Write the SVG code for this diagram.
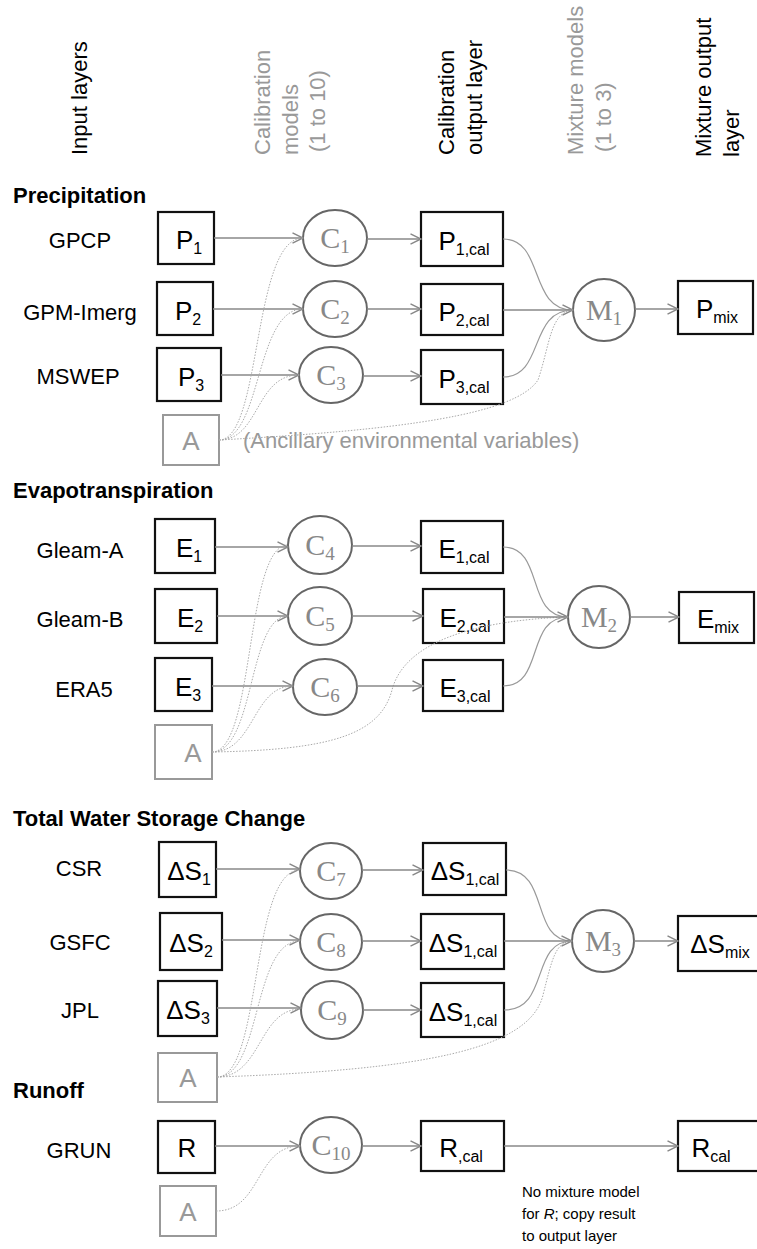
<svg xmlns="http://www.w3.org/2000/svg" width="757" height="1249" viewBox="0 0 757 1249">
<defs>
<marker id="arr" viewBox="0 0 12 12" refX="11.5" refY="6" markerWidth="12" markerHeight="12" orient="auto" markerUnits="userSpaceOnUse">
<path d="M1,0.8 L11.5,6 L1,11.2" fill="none" stroke="#888" stroke-width="1.4"/>
</marker>
<style>
.t{font-family:"Liberation Sans",Arial,sans-serif;fill:#000}
.lbl{font-size:22px;text-anchor:middle}
.hdr{font-size:22px;font-weight:bold}
.col{font-size:22px}
.gr{fill:#999}
.bt{font-size:26px;text-anchor:middle}
.sub{font-size:16px}
.at{font-size:26px;text-anchor:middle;fill:#999}
.ct{font-family:"Liberation Serif","Times New Roman",serif;font-size:30px;fill:#888;text-anchor:middle}
.cs{font-size:19px}
.box{fill:#fff;stroke:#111;stroke-width:2.2}
.abox{fill:#fff;stroke:#999;stroke-width:2}
.node{fill:#fff;stroke:#666;stroke-width:2}
.arrow{fill:none;stroke:#888;stroke-width:1.5;marker-end:url(#arr)}
.curve{fill:none;stroke:#999;stroke-width:1.2}
.dot{fill:none;stroke:#aaa;stroke-width:1;stroke-dasharray:1.5 1.5}
.note{font-size:15px}
</style>
</defs>

<g id="headers">
<text class="t col" transform="translate(87,155) rotate(-90)">Input layers</text>
<text class="t col gr" transform="translate(270,155) rotate(-90)">Calibration</text>
<text class="t col gr" transform="translate(298,155) rotate(-90)">models</text>
<text class="t col gr" transform="translate(325,152) rotate(-90)">(1 to 10)</text>
<text class="t col" transform="translate(454,155) rotate(-90)">Calibration</text>
<text class="t col" transform="translate(482,155) rotate(-90)">output layer</text>
<text class="t col gr" transform="translate(583,155) rotate(-90)">Mixture models</text>
<text class="t col gr" transform="translate(611,152) rotate(-90)">(1 to 3)</text>
<text class="t col" transform="translate(711,157) rotate(-90)">Mixture output</text>
<text class="t col" transform="translate(739,157) rotate(-90)">layer</text>
</g>

<g id="section-titles">
<text class="t hdr" x="13" y="203">Precipitation</text>
<text class="t hdr" x="13" y="498">Evapotranspiration</text>
<text class="t hdr" x="13" y="826">Total Water Storage Change</text>
<text class="t hdr" x="13" y="1098">Runoff</text>
</g>

<g id="source-labels">
<text class="t lbl" x="80" y="248">GPCP</text>
<text class="t lbl" x="80" y="320">GPM-Imerg</text>
<text class="t lbl" x="78" y="384">MSWEP</text>
<text class="t lbl" x="80" y="558">Gleam-A</text>
<text class="t lbl" x="80" y="627">Gleam-B</text>
<text class="t lbl" x="84" y="697">ERA5</text>
<text class="t lbl" x="79" y="876">CSR</text>
<text class="t lbl" x="80" y="950">GSFC</text>
<text class="t lbl" x="80" y="1018">JPL</text>
<text class="t lbl" x="79" y="1158">GRUN</text>
<text class="t gr" x="243" y="448" style="font-size:22px">(Ancillary environmental variables)</text>
</g>

<!-- Precipitation -->
<g id="P1"><rect class="box" x="158" y="212" width="56" height="52"/><text class="t bt" x="189" y="249">P<tspan class="sub" dy="5">1</tspan></text></g>
<g id="P2"><rect class="box" x="157" y="282" width="56" height="53"/><text class="t bt" x="188" y="320">P<tspan class="sub" dy="5">2</tspan></text></g>
<g id="P3"><rect class="box" x="157" y="348" width="64" height="53"/><text class="t bt" x="191" y="386">P<tspan class="sub" dy="5">3</tspan></text></g>
<g id="A1"><rect class="abox" x="163" y="415" width="56" height="50"/><text class="t at" x="191" y="450">A</text></g>
<g id="C1"><ellipse class="node" cx="335" cy="238" rx="32" ry="28"/><text class="ct" x="335" y="248">C<tspan class="cs" dy="5">1</tspan></text></g>
<g id="C2"><ellipse class="node" cx="335" cy="309" rx="32" ry="28"/><text class="ct" x="335" y="319">C<tspan class="cs" dy="5">2</tspan></text></g>
<g id="C3"><ellipse class="node" cx="331" cy="375" rx="32" ry="28"/><text class="ct" x="331" y="385">C<tspan class="cs" dy="5">3</tspan></text></g>
<g id="P1cal"><rect class="box" x="421" y="212" width="82" height="54"/><text class="t bt" x="464" y="250">P<tspan class="sub" dy="5">1,cal</tspan></text></g>
<g id="P2cal"><rect class="box" x="421" y="284" width="82" height="51"/><text class="t bt" x="464" y="321">P<tspan class="sub" dy="5">2,cal</tspan></text></g>
<g id="P3cal"><rect class="box" x="421" y="350" width="82" height="54"/><text class="t bt" x="464" y="388">P<tspan class="sub" dy="5">3,cal</tspan></text></g>
<g id="M1"><circle class="node" cx="604" cy="310" r="31"/><text class="ct" x="604" y="320">M<tspan class="cs" dy="5">1</tspan></text></g>
<g id="Pmix"><rect class="box" x="678" y="281" width="75" height="53"/><text class="t bt" x="717" y="318">P<tspan class="sub" dy="5">mix</tspan></text></g>

<!-- Evapotranspiration -->
<g id="E1"><rect class="box" x="155" y="519" width="60" height="54"/><text class="t bt" x="189" y="557">E<tspan class="sub" dy="5">1</tspan></text></g>
<g id="E2"><rect class="box" x="155" y="589" width="62" height="54"/><text class="t bt" x="190" y="627">E<tspan class="sub" dy="5">2</tspan></text></g>
<g id="E3"><rect class="box" x="155" y="658" width="57" height="53"/><text class="t bt" x="188" y="696">E<tspan class="sub" dy="5">3</tspan></text></g>
<g id="A2"><rect class="abox" x="155" y="725" width="57" height="54"/><text class="t at" x="193" y="762">A</text></g>
<g id="C4"><ellipse class="node" cx="320" cy="545" rx="32" ry="29"/><text class="ct" x="320" y="555">C<tspan class="cs" dy="5">4</tspan></text></g>
<g id="C5"><ellipse class="node" cx="320" cy="616" rx="32" ry="29"/><text class="ct" x="320" y="626">C<tspan class="cs" dy="5">5</tspan></text></g>
<g id="C6"><ellipse class="node" cx="325" cy="687" rx="32" ry="28"/><text class="ct" x="325" y="697">C<tspan class="cs" dy="5">6</tspan></text></g>
<g id="E1cal"><rect class="box" x="421" y="521" width="82" height="52"/><text class="t bt" x="464" y="558">E<tspan class="sub" dy="5">1,cal</tspan></text></g>
<g id="E2cal"><rect class="box" x="423" y="589" width="81" height="54"/><text class="t bt" x="465" y="627">E<tspan class="sub" dy="5">2,cal</tspan></text></g>
<g id="E3cal"><rect class="box" x="423" y="660" width="80" height="51"/><text class="t bt" x="465" y="697">E<tspan class="sub" dy="5">3,cal</tspan></text></g>
<g id="M2"><circle class="node" cx="599" cy="617" r="31"/><text class="ct" x="599" y="627">M<tspan class="cs" dy="5">2</tspan></text></g>
<g id="Emix"><rect class="box" x="679" y="592" width="75" height="51"/><text class="t bt" x="718" y="628">E<tspan class="sub" dy="5">mix</tspan></text></g>

<!-- Total water storage change -->
<g id="S1"><rect class="box" x="159" y="842" width="57" height="55"/><text class="t bt" x="189" y="880">ΔS<tspan class="sub" dy="5">1</tspan></text></g>
<g id="S2"><rect class="box" x="160" y="913" width="62" height="57"/><text class="t bt" x="191" y="952">ΔS<tspan class="sub" dy="5">2</tspan></text></g>
<g id="S3"><rect class="box" x="158" y="981" width="59" height="55"/><text class="t bt" x="188" y="1019">ΔS<tspan class="sub" dy="5">3</tspan></text></g>
<g id="A3"><rect class="abox" x="158" y="1053" width="59" height="49"/><text class="t at" x="188" y="1087">A</text></g>
<g id="C7"><ellipse class="node" cx="331" cy="871" rx="31" ry="28"/><text class="ct" x="331" y="881">C<tspan class="cs" dy="5">7</tspan></text></g>
<g id="C8"><ellipse class="node" cx="331" cy="942" rx="31" ry="28"/><text class="ct" x="331" y="952">C<tspan class="cs" dy="5">8</tspan></text></g>
<g id="C9"><ellipse class="node" cx="332" cy="1010" rx="31" ry="29"/><text class="ct" x="332" y="1020">C<tspan class="cs" dy="5">9</tspan></text></g>
<g id="S1cal"><rect class="box" x="423" y="843" width="83" height="52"/><text class="t bt" x="465" y="880">ΔS<tspan class="sub" dy="5">1,cal</tspan></text></g>
<g id="S2cal"><rect class="box" x="421" y="914" width="83" height="55"/><text class="t bt" x="463" y="952">ΔS<tspan class="sub" dy="5">1,cal</tspan></text></g>
<g id="S3cal"><rect class="box" x="421" y="983" width="83" height="54"/><text class="t bt" x="463" y="1021">ΔS<tspan class="sub" dy="5">1,cal</tspan></text></g>
<g id="M3"><circle class="node" cx="603" cy="941" r="31"/><text class="ct" x="603" y="951">M<tspan class="cs" dy="5">3</tspan></text></g>
<g id="Smix"><rect class="box" x="678" y="916" width="84" height="55"/><text class="t bt" x="720" y="953">ΔS<tspan class="sub" dy="5">mix</tspan></text></g>

<!-- Runoff -->
<g id="R"><rect class="box" x="158" y="1121" width="57" height="52"/><text class="t bt" x="187" y="1157">R</text></g>
<g id="A4"><rect class="abox" x="160" y="1186" width="56" height="50"/><text class="t at" x="188" y="1221">A</text></g>
<g id="C10"><ellipse class="node" cx="331" cy="1145" rx="31" ry="28"/><text class="ct" x="331" y="1155">C<tspan class="cs" dy="5">10</tspan></text></g>
<g id="Rcal"><rect class="box" x="421" y="1121" width="83" height="50"/><text class="t bt" x="461" y="1157">R<tspan class="sub" dy="5">,cal</tspan></text></g>
<g id="Rout"><rect class="box" x="678" y="1121" width="84" height="50"/><text class="t bt" x="711" y="1157">R<tspan class="sub" dy="5">cal</tspan></text></g>
<g id="note">
<text class="t note" x="522" y="1197">No mixture model</text>
<text class="t note" x="522" y="1219">for <tspan font-style="italic">R</tspan>; copy result</text>
<text class="t note" x="522" y="1241">to output layer</text>
</g>

<g id="connectors">
<!-- precipitation -->
<path class="arrow" d="M214,238 H303"/>
<path class="arrow" d="M213,309 H303"/>
<path class="arrow" d="M221,375 H299"/>
<path class="dot" d="M219,440 C262,440 252,238 303,238"/>
<path class="dot" d="M219,440 C262,440 255,309 303,309"/>
<path class="dot" d="M219,440 C260,440 255,375 299,375"/>
<path class="dot" d="M219,440 C400,430 515,415 538,380 C550,345 550,312 573,310"/>
<path class="arrow" d="M367,239 H421"/>
<path class="arrow" d="M367,309 H421"/>
<path class="arrow" d="M363,376 H421"/>
<path class="curve" d="M503,239 C545,239 528,310 573,310"/>
<path class="arrow" d="M503,310 H573"/>
<path class="curve" d="M503,377 C545,377 528,310 573,310"/>
<path class="arrow" d="M635,309 H678"/>
<!-- evapotranspiration -->
<path class="arrow" d="M215,547 H288"/>
<path class="arrow" d="M217,616 H288"/>
<path class="arrow" d="M212,686 H293"/>
<path class="dot" d="M212,752 C255,752 245,545 288,545"/>
<path class="dot" d="M212,752 C255,752 248,616 288,616"/>
<path class="dot" d="M212,752 C255,752 252,686 293,686"/>
<path class="dot" d="M212,752 C330,750 380,735 392,690 C405,640 480,620 568,617"/>
<path class="arrow" d="M352,546 H421"/>
<path class="arrow" d="M352,616 H423"/>
<path class="arrow" d="M357,686 H423"/>
<path class="curve" d="M503,547 C545,547 525,617 568,617"/>
<path class="arrow" d="M504,617 H568"/>
<path class="curve" d="M503,686 C545,686 525,617 568,617"/>
<path class="arrow" d="M630,617 H679"/>
<!-- total water storage -->
<path class="arrow" d="M216,869 H300"/>
<path class="arrow" d="M222,940 H300"/>
<path class="arrow" d="M217,1008 H301"/>
<path class="dot" d="M217,1077 C262,1077 250,870 300,870"/>
<path class="dot" d="M217,1077 C262,1077 252,941 300,941"/>
<path class="dot" d="M217,1077 C262,1077 258,1009 301,1009"/>
<path class="dot" d="M217,1077 C420,1070 530,1050 543,995 C552,960 555,942 572,941"/>
<path class="arrow" d="M362,870 H423"/>
<path class="arrow" d="M362,941 H421"/>
<path class="arrow" d="M363,1010 H421"/>
<path class="curve" d="M506,870 C550,870 530,941 572,941"/>
<path class="arrow" d="M504,941 H572"/>
<path class="curve" d="M504,1010 C550,1010 530,941 572,941"/>
<path class="arrow" d="M634,941 H678"/>
<!-- runoff -->
<path class="arrow" d="M215,1146 H300"/>
<path class="dot" d="M216,1211 C262,1211 255,1146 300,1146"/>
<path class="arrow" d="M362,1146 H421"/>
<path class="arrow" d="M504,1146 H678"/>
</g>
</svg>
